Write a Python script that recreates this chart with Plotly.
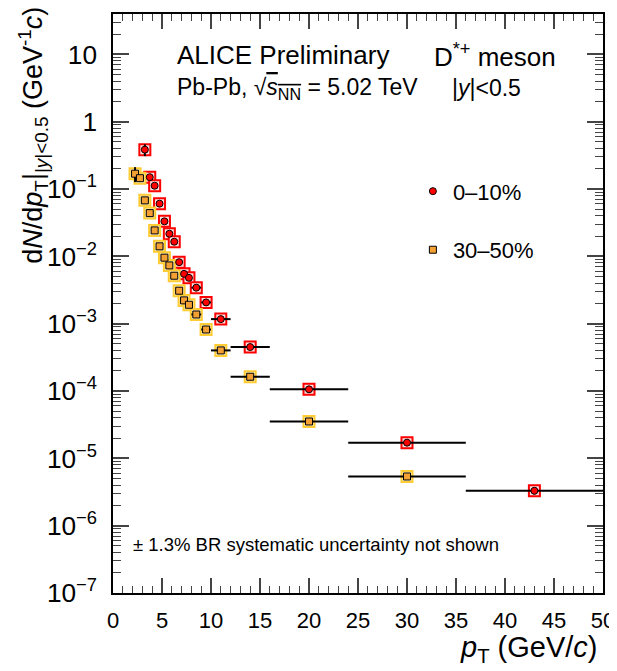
import plotly.graph_objects as go

# ---- data ----
# 0-10% centrality
pt_lo_010 = [3, 3.5, 4, 4.5, 5, 5.5, 6, 6.5, 7, 7.5, 8, 9, 10, 12, 16, 24, 36]
pt_hi_010 = [3.5, 4, 4.5, 5, 5.5, 6, 6.5, 7, 7.5, 8, 9, 10, 12, 16, 24, 36, 50]
pt_c_010 = [3.25, 3.75, 4.25, 4.75, 5.25, 5.75, 6.25, 6.75, 7.25, 7.75, 8.5, 9.5, 11, 14, 20, 30, 43]
y_010 = [0.385, 0.150, 0.112, 0.0607, 0.0331, 0.0217, 0.0165, 0.0082, 0.0055, 0.0048,
         0.00343, 0.00207, 0.00117, 4.5e-4, 1.06e-4, 1.71e-5, 3.3e-6]
stat_rel_010 = [0.2, 0.08, 0.08, 0.06, 0.06, 0.06, 0.06, 0.06, 0.06, 0.06,
                0.06, 0.06, 0.06, 0.06, 0.08, 0.08, 0.12]

# 30-50% centrality
pt_lo_3050 = [2, 2.5, 3, 3.5, 4, 4.5, 5, 5.5, 6, 6.5, 7, 7.5, 8, 9, 10, 12, 16, 24]
pt_hi_3050 = [2.5, 3, 3.5, 4, 4.5, 5, 5.5, 6, 6.5, 7, 7.5, 8, 9, 10, 12, 16, 24, 36]
pt_c_3050 = [2.25, 2.75, 3.25, 3.75, 4.25, 4.75, 5.25, 5.75, 6.25, 6.75, 7.25, 7.75, 8.5, 9.5, 11, 14, 20, 30]
y_3050 = [0.169, 0.145, 0.0679, 0.0439, 0.0243, 0.0141, 0.00957, 0.00734, 0.00516, 0.00309,
          0.00222, 0.00191, 0.00137, 8.2e-4, 4.01e-4, 1.63e-4, 3.53e-5, 5.38e-6]
stat_rel_3050 = [0.25, 0.1, 0.06, 0.05, 0.05, 0.05, 0.05, 0.05, 0.05, 0.05,
                 0.05, 0.05, 0.05, 0.05, 0.05, 0.05, 0.06, 0.06]

legend_labels = ["0\u201310%", "30\u201350%"]

FONT = "Liberation Sans, Arial, Helvetica, sans-serif"
RED = "#FF0000"
ORANGE = "#F5A033"
YELLOW = "#FFCC33"


def half_lo(c, lo):
    return [ci - li for ci, li in zip(c, lo)]


def half_hi(c, hi):
    return [hi_i - ci for ci, hi_i in zip(c, hi)]


fig = go.Figure()

# systematic boxes
fig.add_trace(go.Scatter(
    x=pt_c_010, y=y_010, mode="markers", showlegend=False, hoverinfo="skip",
    marker=dict(symbol="square", size=11, color="rgba(255,225,225,1)",
                line=dict(color=RED, width=2))))
fig.add_trace(go.Scatter(
    x=pt_c_3050, y=y_3050, mode="markers", showlegend=False, hoverinfo="skip",
    marker=dict(symbol="square", size=11, color="rgba(255,240,200,1)",
                line=dict(color=YELLOW, width=2))))

# data points with stat errors and bin widths
fig.add_trace(go.Scatter(
    x=pt_c_3050, y=y_3050, mode="markers", showlegend=False,
    error_x=dict(type="data", symmetric=False, array=half_hi(pt_c_3050, pt_hi_3050),
                 arrayminus=half_lo(pt_c_3050, pt_lo_3050), color="black", thickness=2, width=0),
    error_y=dict(type="data", array=[v * r for v, r in zip(y_3050, stat_rel_3050)],
                 color="black", thickness=2, width=0),
    marker=dict(symbol="square", size=7, color=ORANGE, line=dict(color="black", width=1))))
fig.add_trace(go.Scatter(
    x=pt_c_010, y=y_010, mode="markers", showlegend=False,
    error_x=dict(type="data", symmetric=False, array=half_hi(pt_c_010, pt_hi_010),
                 arrayminus=half_lo(pt_c_010, pt_lo_010), color="black", thickness=2, width=0),
    error_y=dict(type="data", array=[v * r for v, r in zip(y_010, stat_rel_010)],
                 color="black", thickness=2, width=0),
    marker=dict(symbol="circle", size=7, color=RED, line=dict(color="black", width=1))))

# legend entries
fig.add_trace(go.Scatter(
    x=[None], y=[None], mode="markers", name=legend_labels[0], legendgroup="a",
    marker=dict(symbol="circle", size=7, color=RED, line=dict(color="black", width=1))))
fig.add_trace(go.Scatter(
    x=[None], y=[None], mode="markers", name=legend_labels[1], legendgroup="b",
    marker=dict(symbol="square", size=7, color=ORANGE, line=dict(color="black", width=1))))

# page body has an 8 px margin: figure is shrunk so the plot frame lands where the reference has it
fig.update_layout(
    width=609, height=663,
    margin=dict(l=105, r=14, t=6, b=78, autoexpand=False),
    paper_bgcolor="white", plot_bgcolor="white",
    font=dict(family=FONT, color="black", size=22),
    legend=dict(x=0.612, y=0.73, xanchor="left", yanchor="top", bgcolor="rgba(0,0,0,0)",
                font=dict(size=22), tracegroupgap=27, itemsizing="trace"),
    xaxis=dict(range=[0, 50], dtick=5, ticks="inside", ticklen=15, tickwidth=1.5,
               showline=True, linecolor="black", linewidth=1.5, mirror="allticks",
               showgrid=False, zeroline=False, tickfont=dict(size=22),
               ticklabelstandoff=7, automargin=False,
               minor=dict(dtick=1, ticks="inside", ticklen=7, tickwidth=1.2, showgrid=False)),
    yaxis=dict(type="log", range=[-7, 1.6], dtick=1, exponentformat="power",
               ticks="inside", ticklen=16, tickwidth=1.5,
               showline=True, linecolor="black", linewidth=1.5, mirror="allticks",
               showgrid=False, zeroline=False, tickfont=dict(size=21),
               ticklabelstandoff=10, automargin=False,
               minor=dict(dtick="D1", ticks="inside", ticklen=8, tickwidth=1.2, showgrid=False)),
)

annos = [
    dict(text="ALICE Preliminary", x=0.1265, y=0.929, size=26, xanchor="left"),
    dict(text="D<sup>*+</sup> meson", x=0.651, y=0.929, size=26, xanchor="left"),
    dict(text="Pb-Pb, \u221a<span style='text-decoration:overline'><i>s</i><sub>NN</sub></span> = 5.02 TeV",
         x=0.1265, y=0.872, size=23, xanchor="left"),
    dict(text="|<i>y</i>|&lt;0.5", x=0.688, y=0.872, size=23, xanchor="left"),
    dict(text="\u00b1 1.3% BR systematic uncertainty not shown", x=0.0367, y=0.083, size=18.5, xanchor="left"),
    dict(text="<i>p</i><sub>T</sub> (GeV/<i>c</i>)", x=0.994, y=-0.097, size=29, xanchor="right"),
]
for a in annos:
    fig.add_annotation(text=a["text"], x=a["x"], y=a["y"], xref="paper", yref="paper",
                       xanchor=a["xanchor"], yanchor="middle", showarrow=False,
                       font=dict(size=a["size"], family=FONT, color="black"))

fig.add_annotation(
    text="d<i>N</i>/d<i>p</i><sub>T</sub>|<sub>|<i>y</i>|&lt;0.5</sub> (GeV<sup>-1</sup><i>c</i>)",
    x=-0.165, y=0.79, xref="paper", yref="paper", xanchor="center", yanchor="middle",
    textangle=-90, showarrow=False, font=dict(size=27, family=FONT, color="black"))

fig.write_html("out.html")
